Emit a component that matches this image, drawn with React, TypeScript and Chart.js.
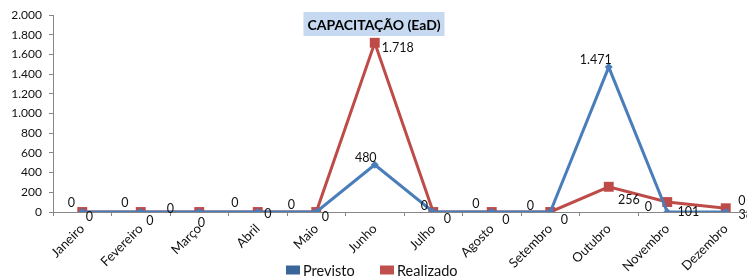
import React, { useEffect, useRef } from "react";
import { Chart, registerables } from "chart.js";

Chart.register(...registerables);

const months = [
  "Janeiro", "Fevereiro", "Março", "Abril", "Maio", "Junho",
  "Julho", "Agosto", "Setembro", "Outubro", "Novembro", "Dezembro",
];
const previsto = [0, 0, 0, 0, 0, 480, 0, 0, 0, 1471, 0, 0];
const realizado = [0, 0, 0, 0, 0, 1718, 0, 0, 0, 256, 101, 38];
const yTicksMax = 2000;
const yTicksStep = 200;
const titleText = "CAPACITAÇÃO (EaD)";
const seriesNames = ["Previsto", "Realizado"];

// label offsets (style)
const prevLabelDx = [-11, -16, -29, -23, -25, -9, -9, -16, -20, -13, -19, 16];
const prevLabelDy = [-9, -9, -3, -9, -7, -7, -6, -8, -6, -7, -5, -11];
const realLabelDx = [7, 9, 2, 10, 9, 23, 14, 14, 14, 20, 21, 20];
const realLabelDy = [5, 9, 11, 2, 5, 5, 7, 8, 8, 13, 10, 7];

const FONT = "Lato, 'Open Sans', sans-serif";
const fmt = (v: number) =>
  String(Math.round(v)).replace(/\B(?=(\d{3})+(?!\d))/g, ".");

const labelsPlugin = {
  id: "customDraw",
  afterDatasetsDraw(chart: any) {
    const ctx = chart.ctx;
    ctx.save();
    ctx.font = `12.5px ${FONT}`;
    ctx.fillStyle = "#111";
    ctx.textAlign = "center";
    ctx.textBaseline = "middle";
    const offs = [
      [prevLabelDx, prevLabelDy],
      [realLabelDx, realLabelDy],
    ];
    chart.data.datasets.forEach((ds: any, di: number) => {
      const meta = chart.getDatasetMeta(di);
      meta.data.forEach((pt: any, i: number) => {
        ctx.fillText(fmt(ds.data[i]), pt.x + offs[di][0][i], pt.y + offs[di][1][i]);
      });
    });
    // title
    ctx.font = `bold 14px ${FONT}`;
    const tw = ctx.measureText(titleText).width;
    const cx = 374;
    const cy = 24;
    ctx.fillStyle = "#C6D9F1";
    ctx.fillRect(cx - tw / 2 - 4, cy - 12, tw + 8, 24);
    ctx.fillStyle = "#000";
    ctx.fillText(titleText, cx, cy + 1);
    // legend
    ctx.font = `14.5px ${FONT}`;
    ctx.textAlign = "left";
    const legendColors = ["#3A6699", "#C0504D"];
    const lx = [286, 380];
    const ly = 270;
    seriesNames.forEach((n, i) => {
      ctx.fillStyle = legendColors[i];
      ctx.fillRect(lx[i], ly - 4.5, 14, 9);
      ctx.fillStyle = "#111";
      ctx.fillText(n, lx[i] + 17, ly + 1);
    });
    ctx.restore();
  },
};

export default function App() {
  const ref = useRef<HTMLCanvasElement>(null);
  useEffect(() => {
    if (!ref.current) return;
    const chart = new Chart(ref.current, {
      type: "line",
      data: {
        labels: months,
        datasets: [
          {
            label: seriesNames[0],
            data: previsto,
            borderColor: "#4A7EBB",
            backgroundColor: "#4A7EBB",
            borderWidth: 3,
            pointStyle: "rectRot",
            pointRadius: 4,
            pointBorderWidth: 0,
            tension: 0,
          },
          {
            label: seriesNames[1],
            data: realizado,
            borderColor: "#BE4B48",
            backgroundColor: "#BE4B48",
            borderWidth: 3,
            pointStyle: "rect",
            pointRadius: 7,
            pointBorderWidth: 0,
            tension: 0,
          },
        ],
      },
      options: {
        responsive: false,
        animation: false,
        layout: { padding: { top: 15, right: 3, left: 0, bottom: 0 } },
        plugins: {
          legend: { display: false },
          title: { display: false },
          tooltip: { enabled: false },
        },
        scales: {
          x: {
            offset: true,
            border: { color: "#868686", width: 1 },
            grid: {
              offset: true,
              drawOnChartArea: false,
              drawTicks: true,
              tickLength: 4,
              color: "#868686",
            },
            ticks: {
              minRotation: 45,
              maxRotation: 45,
              autoSkip: false,
              padding: 5,
              color: "#111",
              font: { family: FONT, size: 13 },
            },
            afterFit: (s: any) => {
              s.height = 64;
            },
          },
          y: {
            min: 0,
            max: yTicksMax,
            border: { color: "#868686", width: 1 },
            grid: {
              drawOnChartArea: false,
              drawTicks: true,
              tickLength: 4,
              color: "#868686",
            },
            ticks: {
              stepSize: yTicksStep,
              padding: 7,
              color: "#111",
              font: { family: FONT, size: 12 },
              callback: (v: any) => fmt(Number(v)),
            },
            afterFit: (s: any) => {
              s.width = 53;
            },
          },
        },
      },
      plugins: [labelsPlugin],
    });
    return () => chart.destroy();
  }, []);
  return (
    <div
      style={{
        position: "fixed",
        left: 0,
        top: 0,
        width: 747,
        height: 276,
        overflow: "hidden",
        background: "#fff",
      }}
    >
      <canvas ref={ref} width={762} height={276} style={{ display: "block" }} />
    </div>
  );
}
